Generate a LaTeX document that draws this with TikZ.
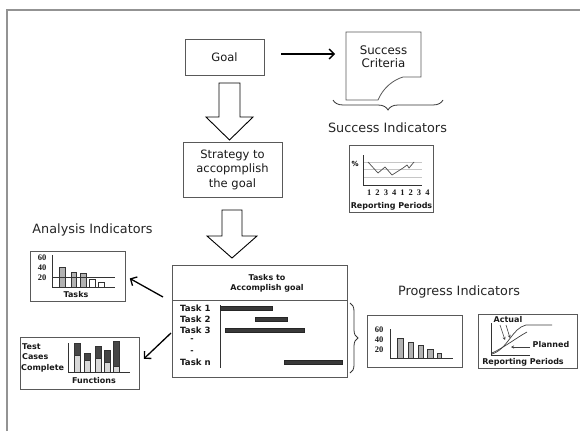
\documentclass[tikz,border=0pt]{standalone}
\usepackage{fontspec}
\setmainfont{DejaVu Sans}
\newfontfamily\numfont{Liberation Serif}
\usetikzlibrary{arrows.meta,decorations.pathreplacing}
\begin{document}
\begin{tikzpicture}[x=1pt,y=-1pt,
  frame/.style={draw=gray!85, line width=1.5pt},
  box/.style={draw=gray!70!black, line width=0.8pt},
  lbl/.style={font=\fontsize{8}{10}\selectfont\bfseries, inner sep=0pt, text=black!90},
  num/.style={font=\numfont\fontsize{8.5}{9}\selectfont\bfseries, inner sep=0pt, text=black!90},
  head/.style={font=\fontsize{12.8}{15}\selectfont, inner sep=0pt, text=black!85},
  main/.style={font=\fontsize{11.5}{14.5}\selectfont, align=center, text=black!90},
  hollow/.style={draw=black, line width=0.9pt, fill=white},
  arr/.style={line width=1.3pt, -{Straight Barb[length=5pt,width=10pt]}},
  axis/.style={draw=gray!40!black, line width=0.7pt},
  bar/.style={draw=gray!40!black, fill=gray!60, line width=0.5pt},
  tbar/.style={draw=gray!30!black, fill=gray!45!black, line width=0.4pt},
  brc/.style={draw=black!80, line width=0.8pt, decorate},
  chart/.style={box, inner sep=0pt}
]
\useasboundingbox (0,0) rectangle (580,431);
\fill[white] (0,0) rectangle (580,431);
\draw[frame] (7,431) -- (7,10) -- (580,10);

% Goal
\node[box, main, minimum width=79pt, minimum height=36pt, inner sep=0pt] (goal) at (224.5,57) {Goal};

% Success criteria (document shape)
\draw[box] (346,32) -- (421,32) -- (421,77) -- (403,77) .. controls (393,80) and (383,88) .. (378,100) -- (346,100) -- cycle;
\node[main, font=\fontsize{11.8}{13}\selectfont] (crit) at (383.5,57) {Success\\Criteria};
\coordinate (critw) at (346,54);
\draw[arr, shorten <=17pt, shorten >=11pt] (goal.east |- critw) -- (critw);

% brace + heading
\draw[brc, decoration={brace, amplitude=10pt}] (443,100) -- (333,100);
\node[head] (sih) at (387.5,128) {Success Indicators};

% hollow arrows + strategy
\draw[hollow] (219,83) -- (240,83) -- (240,117) -- (253,117) -- (229.5,140) -- (206,117) -- (219,117) -- cycle;
\node[box, main, minimum width=99pt, minimum height=55pt, inner sep=0pt] (strat) at (232.5,169.5) {Strategy to\\accopmplish\\the goal};
\draw[hollow] (222,210) -- (242,210) -- (242,236) -- (257,236) -- (232,258) -- (207,236) -- (222,236) -- cycle;

% Success chart
\node[chart, minimum width=84pt, minimum height=67pt] (succ) at (391,178.5) {};
\draw[gray!45, line width=0.6pt] (363,162) -- (422,162) (363,169) -- (422,169) (363,177) -- (422,177);
\draw[axis] (363,155) -- (363,185) -- (422,185);
\draw[line width=0.7pt, black!70] (368,162) -- (378,173) -- (385,167) -- (392,175) -- (403,168) -- (407,165) -- (409,168) -- (414,162);
\node[inner sep=0pt, font=\fontsize{7}{8}\selectfont\bfseries] (pct) at (355,164) {\%};
\foreach \d [count=\i] in {1,2,3,4,1,2,3,4}
  \node[num] (sd\i) at ({361+8.3*\i},193) {\d};
\node[lbl] (srp) at (391.5,206) {Reporting Periods};

% Analysis indicators
\node[head] (aih) at (92.5,230) {Analysis Indicators};
\node[chart, minimum width=95pt, minimum height=50pt] (anal) at (77.5,276) {};
\node[num] (a60) at (42,258) {60};
\node[num] (a40) at (42,268) {40};
\node[num] (a20) at (42,278) {20};
\draw[bar] (59,267) rectangle (65,287);
\draw[bar] (71,272) rectangle (76,287);
\draw[bar] (80,273) rectangle (86,287);
\draw[bar, fill=white] (89,279) rectangle (95,287);
\draw[bar, fill=white] (98,282) rectangle (104,287);
\draw[axis] (52,255) -- (52,287);
\draw[axis] (52,277) -- (115,277) (52,287) -- (115,287);
\node[lbl] (atl) at (76,295) {Tasks};

% Test cases chart
\node[chart, minimum width=119pt, minimum height=52pt] (test) at (79.5,363) {};
\node[lbl, anchor=west] (tt1) at (22,347) {Test};
\node[lbl, anchor=west] (tt2) at (22,357) {Cases};
\node[lbl, anchor=west] (tt3) at (21,368) {Complete};
\foreach \x/\t/\m in {74/343/355, 84/353/360, 95/346/358, 104/350/362, 113/341/366}{
  \draw[bar, fill=gray!55!black] (\x,\t) rectangle (\x+6,\m);
  \draw[bar, fill=gray!30] (\x,\m) rectangle (\x+6,372);
}
\draw[axis] (68,343) -- (68,372) -- (130,372);
\node[lbl] (tfn) at (94,381) {Functions};

% Tasks box
\node[box, minimum width=175pt, minimum height=112pt, inner sep=0pt] (tasks) at (259.5,321) {};
\draw[box] (172,300) -- (347,300);
\node[lbl, align=center] (ttl) at (267,283) {Tasks to\\Accomplish goal};
\tikzset{tk/.style={lbl, anchor=west, font=\fontsize{8.6}{10}\selectfont\bfseries}}
\node[tk] (k1) at (180,308) {Task 1};
\node[tk] (k2) at (180,319) {Task 2};
\node[tk] (k3) at (180,330) {Task 3};
\node[lbl] (kd1) at (192,340) {-};
\node[lbl] (kd2) at (192,352) {-};
\node[tk] (kn) at (180,362) {Task n};
\draw[axis] (220,305) -- (220,368);
\draw[tbar] (220,306) rectangle (272,310);
\draw[tbar] (255,317) rectangle (287,321);
\draw[tbar] (225,328) rectangle (304,332);
\draw[tbar] (284,360) rectangle (342,364);
\draw[brc, decoration={brace, amplitude=8pt}] (350,303) -- (350,373);

% arrows to analysis charts
\coordinate (a1) at (163,297);
\coordinate (a2) at (171,333);
\draw[arr, shorten >=5pt] (a1) -- (anal.east);
\draw[arr, shorten >=6pt] (a2) -- (test.east);

% Progress indicators
\node[head] (pih) at (459,292) {Progress Indicators};
\node[chart, minimum width=95pt, minimum height=52pt] (prog) at (414.5,341) {};
\node[num] (p60) at (379,330) {60};
\node[num] (p40) at (379,340) {40};
\node[num] (p20) at (379,350) {20};
\draw[bar] (397,338) rectangle (403,358);
\draw[bar] (408,342) rectangle (413,358);
\draw[bar] (418,345) rectangle (423,358);
\draw[bar] (427,349) rectangle (433,358);
\draw[bar] (437,353) rectangle (441,358);
\draw[axis] (390,329) -- (390,358) -- (453,358);

\node[chart, minimum width=99pt, minimum height=54pt] (plan) at (527.5,341) {};
\draw[axis] (491,323) -- (491,355) -- (530,355);
\draw[line width=0.7pt, black!75] (492,354) .. controls (508,349) and (512,328) .. (526,325) -- (552,325);
\draw[line width=0.7pt, black!75] (492,353) .. controls (505,347) and (516,338) .. (527,332);
\draw[line width=0.6pt, black!75, -{Stealth[length=3pt,width=3pt]}] (530,347) -- (511,347);
\draw[line width=0.6pt, black!75, -{Stealth[length=3pt,width=3pt]}] (500,325) -- (505,340);
\draw[line width=0.6pt, black!75, -{Stealth[length=3pt,width=3pt]}] (506,325) -- (510,338);
\node[lbl] (pac) at (508,320) {Actual};
\node[lbl] (ppl) at (551,345) {Planned};
\node[lbl] (prp) at (523,362) {Reporting Periods};
\end{tikzpicture}
\end{document}
